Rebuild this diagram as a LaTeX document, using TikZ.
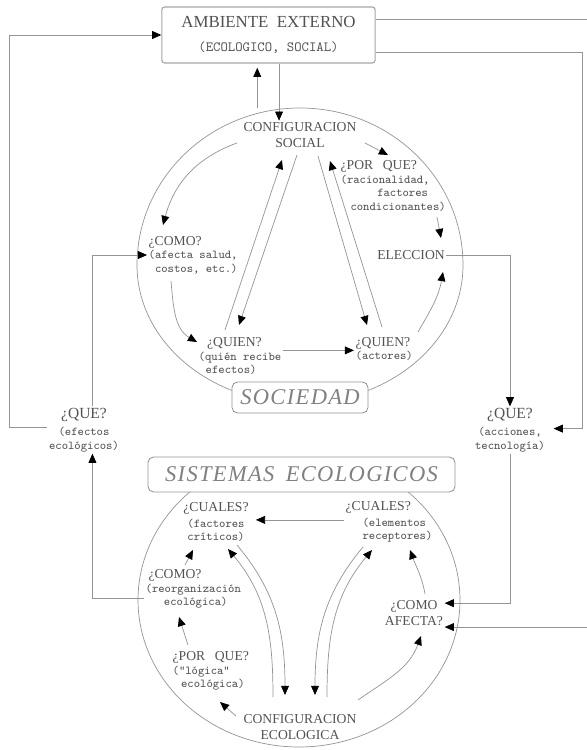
\documentclass[tikz,border=0pt]{standalone}
\usepackage{fontspec}
\setmainfont{Liberation Serif}
\newfontfamily\spacedserif[LetterSpace=6]{Liberation Serif}
\usetikzlibrary{arrows.meta,calc}

\definecolor{linegray}{gray}{0.58}
\definecolor{textgray}{gray}{0.32}

\newcommand{\headtxt}{\rmfamily\fontsize{9.7}{11.5}\selectfont}
\newcommand{\notetxt}{\ttfamily\fontsize{8.6}{9.5}\selectfont}
\newcommand{\quetxt}{\rmfamily\fontsize{11}{12}\selectfont}

\tikzset{
  link/.style={draw=linegray, line width=0.5pt, -{Triangle[length=6.5pt,width=5.6pt,color=black]}},
  ring/.style={draw=linegray, line width=0.5pt},
  lbl/.style={text=textgray, inner sep=1pt, font=\notetxt},
  hlbl/.style={text=textgray, inner sep=1pt, font=\headtxt, align=center},
  envbox/.style={draw=black!35, line width=0.8pt, rounded corners=2pt, fill=white, text=textgray,
    minimum width=5.33cm, minimum height=1.4cm, align=center, inner sep=0pt},
  titlebox/.style={draw=linegray, line width=0.6pt, rounded corners=4pt, fill=white, text=black!50,
    font=\spacedserif\itshape\fontsize{16}{18}\selectfont, inner sep=0pt},
}

\begin{document}
\begin{tikzpicture}[x=0.025cm,y=0.025cm]
\useasboundingbox (0,0) rectangle (586,-750);

% ambiente externo
\node[envbox] (amb) at (268.5,-35)
  {{\fontsize{12}{14}\selectfont AMBIENTE\hspace{0.5em}EXTERNO}\\[5pt]{\ttfamily\fontsize{10}{12}\selectfont (ECOLOGICO, SOCIAL)}};

% sociedad
\coordinate (stop) at (300,-108);
\draw[ring] (137,-265) arc[start angle=180,end angle=0,x radius=163,y radius=157]
                       arc[start angle=0,end angle=-180,x radius=163,y radius=138];
\node[titlebox, minimum width=3.4cm, minimum height=0.775cm] (soc) at (300,-397.5) {SOCIEDAD};

\node[hlbl] (csoc) at (300,-135) {CONFIGURACION\\SOCIAL};
\node[lbl, align=left, anchor=west] (comoS) at (147,-255)
  {{\headtxt ¿COMO?}\\(afecta salud,\\\ costos, etc.)};
\node[lbl, align=left, anchor=west] (quienL) at (197,-356)
  {{\headtxt\hspace*{6pt}¿QUIEN?}\\(quién recibe\\\hspace*{5pt}efectos)};
\node[lbl, align=left, anchor=west] (quienR) at (354,-349)
  {{\headtxt ¿QUIEN?}\\(actores)};
\node[hlbl] (elec) at (411,-255) {ELECCION};
\node[lbl, align=left, anchor=west] (porS) at (339,-186)
  {{\headtxt ¿POR\hspace{0.7em}QUE?}\\(racionalidad,\\\hspace*{26pt}factores\\\hspace*{7pt}condicionantes)};

% que? a los lados
\node[lbl, align=center] (queL) at (84,-430) {{\quetxt ¿QUE?}\\[3pt](efectos\\ecológicos)};
\node[lbl, align=center] (queR) at (510,-430) {{\quetxt ¿QUE?}\\[3pt](acciones,\\tecnología)};

% sistemas ecologicos
\draw[ring] (299,-600) ++(47.3:161 and 147)
  arc[start angle=47.3,end angle=-227.3,x radius=161,y radius=147];
\node[titlebox, minimum width=7.675cm, minimum height=0.875cm] (sis) at (301.5,-474.5)
  {SISTEMAS\hspace{0.5em}ECOLOGICOS};

\node[lbl, align=center] (cuaF) at (216,-522) {{\headtxt ¿CUALES?}\\[1.5pt](factores\\críticos)};
\node[lbl, align=left, anchor=west] (cuaR) at (344,-522)
  {{\headtxt ¿CUALES?}\\[1.5pt]\hspace*{12pt}(elementos\\\hspace*{12pt}receptores)};
\node[lbl, align=left, anchor=west] (comoR) at (144,-589)
  {{\headtxt\hspace*{2pt}¿COMO?}\\(reorganización\\\hspace*{13pt}ecológica)};
\node[lbl, align=left, anchor=west] (porE) at (171,-671)
  {{\headtxt ¿POR\hspace{0.7em}QUE?}\\("lógica"\\\hspace*{6pt}ecológica)};
\node[hlbl] (confE) at (300,-727) {CONFIGURACION\\ECOLOGICA};
\node[hlbl] (comoA) at (414,-613) {¿COMO\\AFECTA?};

% lazos exteriores
\draw[link] ([yshift=2pt]queL.west) -- ++(-38,0) |- (amb.west);
\draw[link] ([xshift=6pt]queL.north) |- (comoS.west);
\draw[link] ([yshift=-6.5pt]comoR.west) -| ([xshift=6pt]queL.south);
\draw[link] (elec.east) -| (queR.north);
\draw[link] (queR.south) |- ([yshift=7pt]comoA.east);
\draw[link, shorten >=5pt] ([yshift=-12pt]amb.east) -- ++(207,0) |- ([yshift=1pt]queR.east);
\draw[link] ([yshift=11pt]amb.east) -- ++(212,0) |- ([yshift=-10pt]comoA.east);

% ambiente <-> configuracion social
\draw[link, shorten >=3pt] ([xshift=-8pt]amb.south |- stop) -- ([xshift=-8pt]amb.south);
\draw[link] ([xshift=7.5pt]amb.south) -- ([xshift=7.5pt]amb.south |- csoc.north);

% dentro de la sociedad
\draw[link] ($(csoc)+(-63,-8)$) to[out=200,in=75] ($(comoS.west)+(16,30)$);
\draw[link] ($(comoS.west)+(24,-26)$) to[out=-85,in=150] ($(quienL.west)+(0,14)$);
\draw[link] ([yshift=4pt]quienL.east) -- ([yshift=4pt]quienL.east -| quienR.west);
\draw[link] ($(quienR.west)+(64,17)$) to[out=60,in=-100] ($(elec)+(32,-17)$);
\draw[link] ($(csoc)+(65,-8)$) -- ($(porS.west)+(49,31)$);
\draw[link] ($(porS.west)+(98,-31)$) -- ($(elec)+(30,17)$);
\draw[link] ($(quienL.west)+(28,26)$) -- ($(csoc)+(-18,-25)$);
\draw[link] ($(csoc)+(-3,-20)$) -- ($(quienL.west)+(42,31)$);
\draw[link] ($(csoc)+(18,-21)$) -- ($(quienR.west)+(13,24)$);
\draw[link] ($(quienR.west)+(28,22)$) -- ($(csoc)+(30,-26)$);

% dentro de los sistemas ecologicos
\draw[link, shorten >=4pt] ([yshift=1.5pt]cuaR.west) -- ([yshift=1.5pt]cuaR.west -| cuaF.east);
\draw[link] ($(comoR.west)+(41,24)$) -- ($(cuaF)+(-23,-28)$);
\draw[link] ($(porE.west)+(17,26)$) -- ($(comoR.west)+(35,-28)$);
\draw[link] ($(confE)+(-64,11)$) -- ($(porE.west)+(49,-31)$);
\draw[link] ($(confE)+(58,27)$) to[out=35,in=250] ($(comoA)+(7,-23)$);
\draw[link] ($(comoA)+(11,19)$) to[out=100,in=-70] ($(cuaR.west)+(66,-28)$);
\draw[link] ($(cuaF)+(21,-23)$) to[out=-50,in=90] ($(confE)+(-15,32)$);
\draw[link] ($(confE)+(-27,30)$) to[out=90,in=-50] ($(cuaF)+(12,-27)$);
\draw[link] ($(cuaR.west)+(19,-25)$) to[out=-130,in=90] ($(confE)+(15,32)$);
\draw[link] ($(confE)+(27,30)$) to[out=90,in=-130] ($(cuaR.west)+(28,-28)$);
\end{tikzpicture}
\end{document}
